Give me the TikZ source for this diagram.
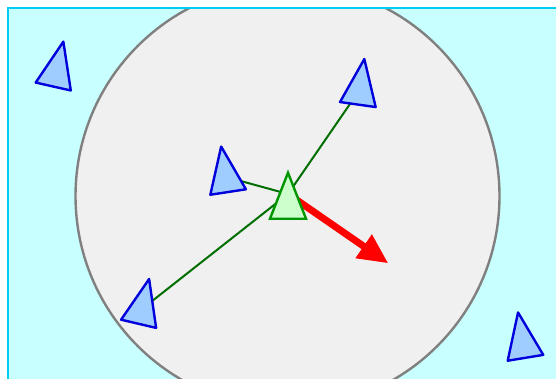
\documentclass[tikz,border=0pt]{standalone}
\usetikzlibrary{arrows.meta}
\definecolor{sky}{RGB}{200,255,255}
\definecolor{skyline}{RGB}{0,205,240}
\definecolor{zone}{RGB}{240,240,240}
\definecolor{boidfill}{RGB}{160,205,255}
\definecolor{boidline}{RGB}{0,0,220}
\definecolor{mefill}{RGB}{204,255,204}
\definecolor{meline}{RGB}{0,150,0}
\definecolor{linkgreen}{RGB}{0,110,0}
\begin{document}
\begin{tikzpicture}[
    x=1pt, y=-1pt,
    boid/.pic={\path[pic actions] (0,-30.7) -- (18,15.3) -- (-18,15.3) -- cycle;},
    other/.style={draw=boidline, fill=boidfill, line width=2.4pt, line join=round},
    me/.style={draw=meline, fill=mefill, line width=2.4pt},
    link/.style={draw=linkgreen, line width=2pt},
    push/.style={draw=red, line width=7pt, -{Triangle[length=30pt,width=27pt]}}
]
\useasboundingbox (0,0) rectangle (556,378);

\fill[sky] (8,8) rectangle (570,390);
\begin{scope}
\clip (8,8) rectangle (570,390);
\draw[gray, line width=2.4pt, fill=zone] (287.5,196) circle[radius=212];
\end{scope}
\draw[skyline, line width=2.4pt] (8,390) -- (8,8) -- (570,8);

\coordinate (hub) at (288,194);
\coordinate (self) at (288,203.4);
\coordinate (b1) at (56.6,71.6);
\coordinate (b2) at (360,89.4);
\coordinate (b3) at (225.8,176.9);
\coordinate (b4) at (142.1,308.9);
\coordinate (b5) at (523,342.7);
\coordinate (goal) at (388.3,263.3);

\draw[link] (hub) -- (b2);
\draw[link] (hub) -- (b3);
\draw[link] (hub) -- (b4);
\draw[push] (hub) -- (goal);

\pic[other, rotate=-12.7] at (b1) {boid};
\pic[other, rotate=-8.1] at (b2) {boid};
\pic[other, rotate=8.7] at (b3) {boid};
\pic[other, rotate=-13.2] at (b4) {boid};
\pic[other, rotate=9.3] at (b5) {boid};
\pic[me] at (self) {boid};

\end{tikzpicture}
\end{document}
